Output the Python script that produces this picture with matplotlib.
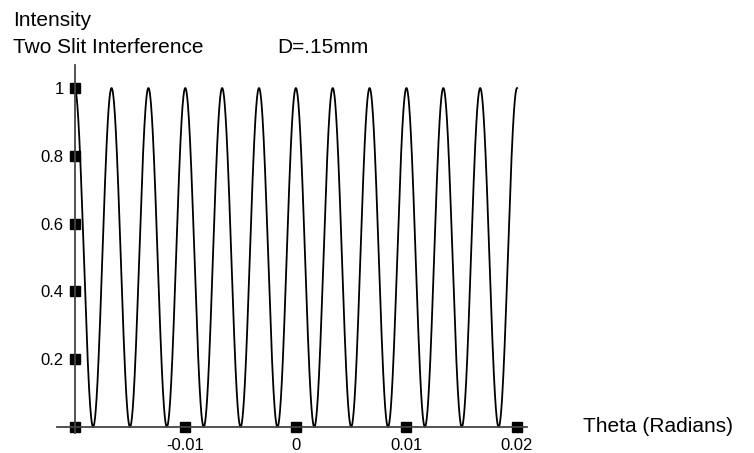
import numpy as np
import matplotlib
matplotlib.use("Agg")
import matplotlib.pyplot as plt

plt.rcParams['font.family'] = ['Liberation Sans', 'DejaVu Sans']

# two slit setup (D = slit separation, wavelength of the light)
slit_sep = 0.15e-3      # m
wavelength = 500e-9     # m
theta_min, theta_max = -0.02, 0.02

x_ticks = [-0.01, 0, 0.01, 0.02]
x_tick_labels = ["-0.01", "0", "0.01", "0.02"]
y_ticks = [0.2, 0.4, 0.6, 0.8, 1]
y_tick_labels = ["0.2", "0.4", "0.6", "0.8", "1"]
y_marks = [0, 0.2, 0.4, 0.6, 0.8, 1]

theta = np.linspace(theta_min, theta_max, 2000)
intensity = np.cos(np.pi * slit_sep * np.sin(theta) / wavelength) ** 2

W, H = 754, 453
fig = plt.figure(figsize=(W / 100, H / 100), dpi=100)
ax = fig.add_axes([57 / W, 20 / H, 470 / W, 368 / H])

ax.plot(theta, intensity, color='black', lw=1.3, clip_on=False)

ax.set_xlim(-0.0216, 0.0209)
ax.set_ylim(-0.018, 1.068)

for s in ['top', 'right']:
    ax.spines[s].set_visible(False)
ax.spines['left'].set_position(('data', theta_min))
ax.spines['bottom'].set_position(('data', 0))
for s in ['left', 'bottom']:
    ax.spines[s].set_color('#444444')
    ax.spines[s].set_linewidth(1.3)

# square tick marks
ax.plot([theta_min] * len(y_marks), y_marks, 's', color='black', ms=7, clip_on=False)
ax.plot(x_ticks, [0] * len(x_ticks), 's', color='black', ms=7, clip_on=False)

ax.set_xticks(x_ticks)
ax.set_xticklabels(x_tick_labels)
ax.set_yticks(y_ticks)
ax.set_yticklabels(y_tick_labels)
ax.tick_params(axis='both', length=0, labelsize=12, colors='black')
ax.tick_params(axis='y', pad=8)
ax.tick_params(axis='x', pad=8)

fig.text(13 / W, 1 - 26 / H, "Intensity", fontsize=15, va='baseline')
fig.text(13 / W, 1 - 53 / H, "Two Slit Interference", fontsize=15, va='baseline')
fig.text(277 / W, 1 - 53 / H, "D=.15mm", fontsize=15, va='baseline')
fig.text(583 / W, 1 - 427 / H, "Theta (Radians)", fontsize=15, va='center')

fig.savefig("out.png", dpi=100)
